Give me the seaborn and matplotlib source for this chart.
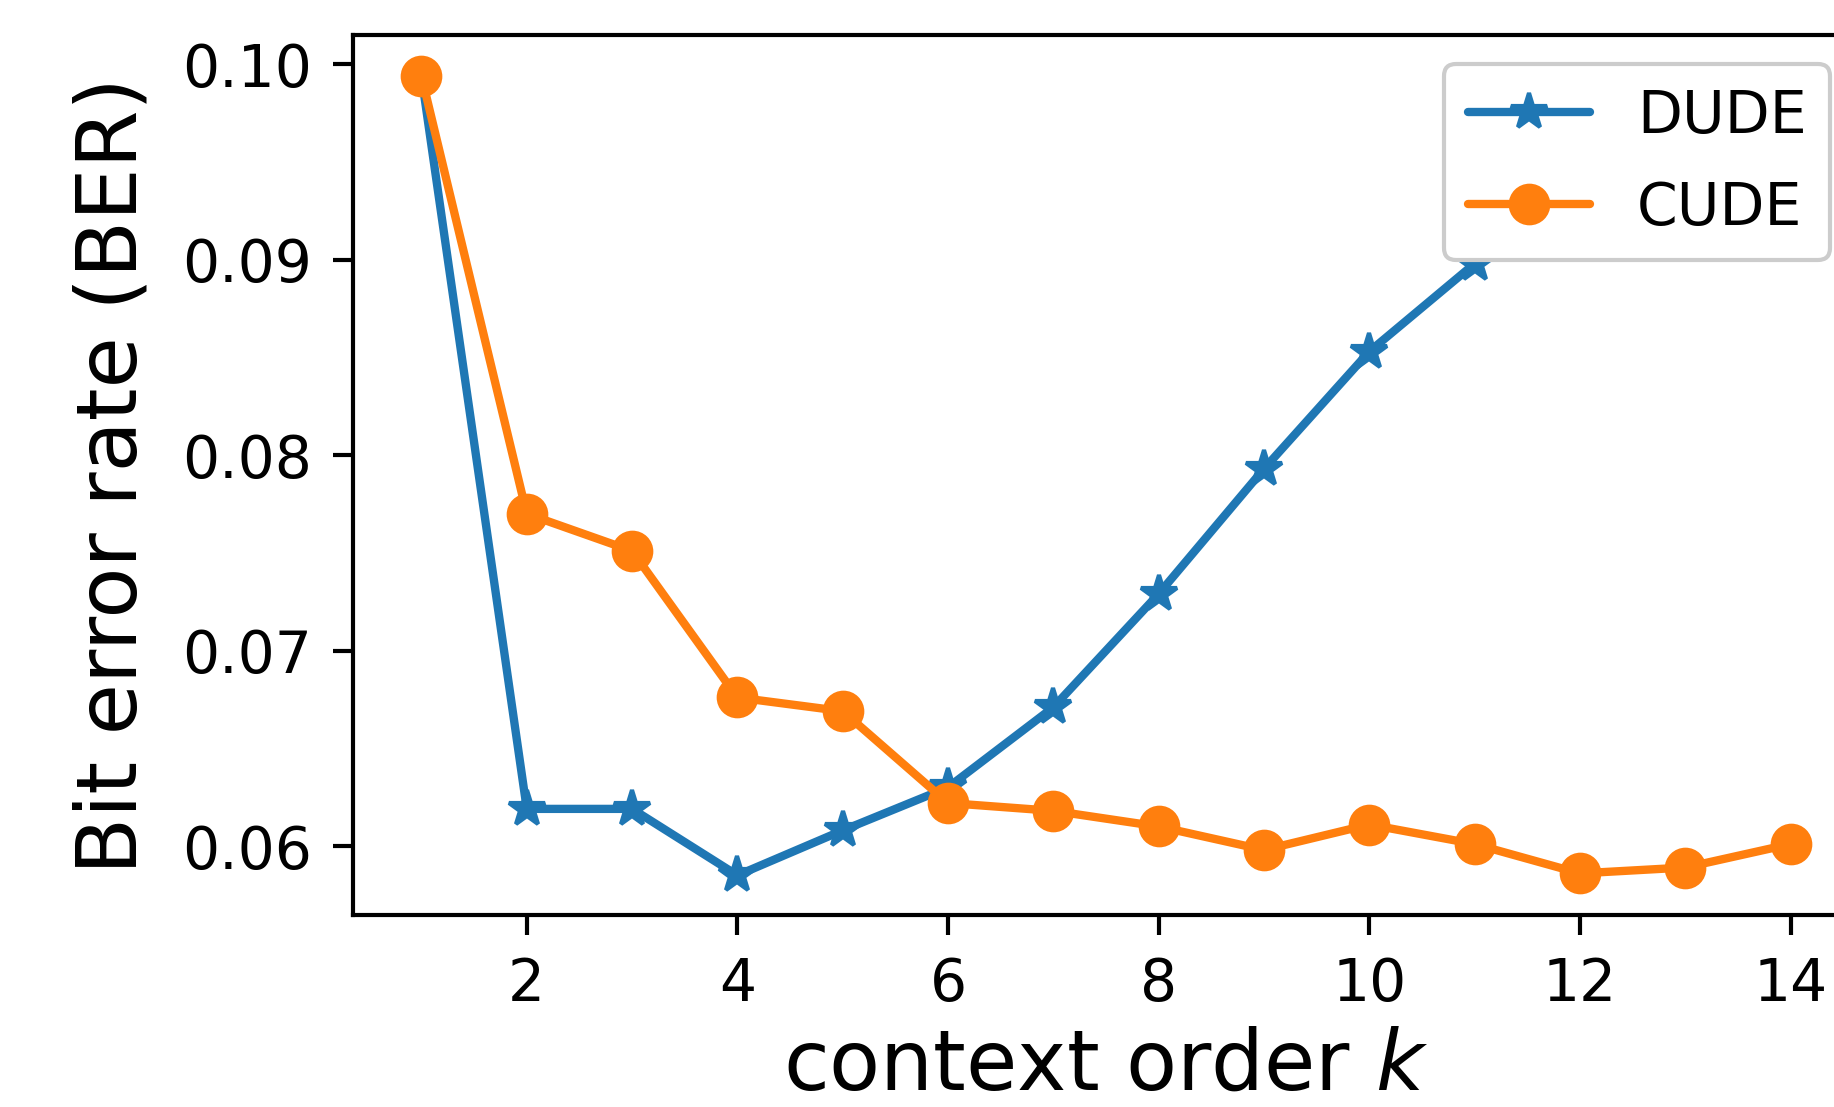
import matplotlib
matplotlib.use("Agg")
import matplotlib.pyplot as plt
import seaborn as sns
import pandas as pd

k_values = [1, 2, 3, 4, 5, 6, 7, 8, 9, 10, 11, 12, 13, 14]
dude_ber = [0.0994, 0.0619, 0.0619, 0.0585, 0.0608, 0.0630, 0.0671, 0.0729,
            0.0793, 0.0853, 0.0898, 0.0932, 0.0958, 0.0982]
cude_ber = [0.0994, 0.0770, 0.0751, 0.0676, 0.0669, 0.0622, 0.0618, 0.0610,
            0.0598, 0.0611, 0.0601, 0.0586, 0.0589, 0.0601]
series_names = ["DUDE", "CUDE"]
x_ticks = [2, 4, 6, 8, 10, 12, 14]
y_ticks = [0.06, 0.07, 0.08, 0.09, 0.10]
x_label = "context order $k$"
y_label = "Bit error rate (BER)"

sns.set_style("ticks")
plt.rcParams["font.family"] = ["DejaVu Sans"]
plt.rcParams["mathtext.fontset"] = "dejavusans"
plt.rcParams["text.color"] = "black"
plt.rcParams["axes.labelcolor"] = "black"
plt.rcParams["xtick.color"] = "black"
plt.rcParams["ytick.color"] = "black"

df = pd.DataFrame({
    "k": k_values * 2,
    "ber": dude_ber + cude_ber,
    "method": [series_names[0]] * len(k_values) + [series_names[1]] * len(k_values),
})

fig = plt.figure(figsize=(1835 / 300, 1107 / 300), dpi=300)
ax = fig.add_axes([353 / 1835, 1 - 915 / 1107, (1859 - 353) / 1835, (915 - 35) / 1107])

colors = {"DUDE": "#1f77b4", "CUDE": "#ff7f0e"}
markers = {"DUDE": "*", "CUDE": "o"}
sizes = {"DUDE": 9, "CUDE": 9}
for name in series_names:
    sub = df[df["method"] == name]
    sns.lineplot(data=sub, x="k", y="ber", ax=ax, color=colors[name], marker=markers[name],
                 markersize=sizes[name], markeredgecolor=colors[name], markeredgewidth=1,
                 linewidth=2.0, label=name)

ax.set_xlim(0.35, 14.65)
ax.set_ylim(0.05647, 0.1015)
ax.set_xticks(x_ticks)
ax.set_yticks(y_ticks)
ax.set_yticklabels([f"{v:.2f}" for v in y_ticks])
ax.tick_params(axis="both", labelsize=14, length=4.8, width=1.0, pad=5,
               color="black", labelcolor="black")
for sp in ax.spines.values():
    sp.set_linewidth(1.0)
    sp.set_color("black")
ax.set_xlabel(x_label, fontsize=20, labelpad=3, color="black")
ax.set_ylabel(y_label, fontsize=20, labelpad=7, color="black")

leg = ax.legend(loc="upper right", fontsize=14, handlelength=2.1, labelspacing=0.6,
                frameon=True, fancybox=True, framealpha=1.0, edgecolor="0.8")
leg.get_frame().set_linewidth(1.0)
for t in leg.get_texts():
    t.set_color("black")

fig.savefig("out.png", dpi=300)
